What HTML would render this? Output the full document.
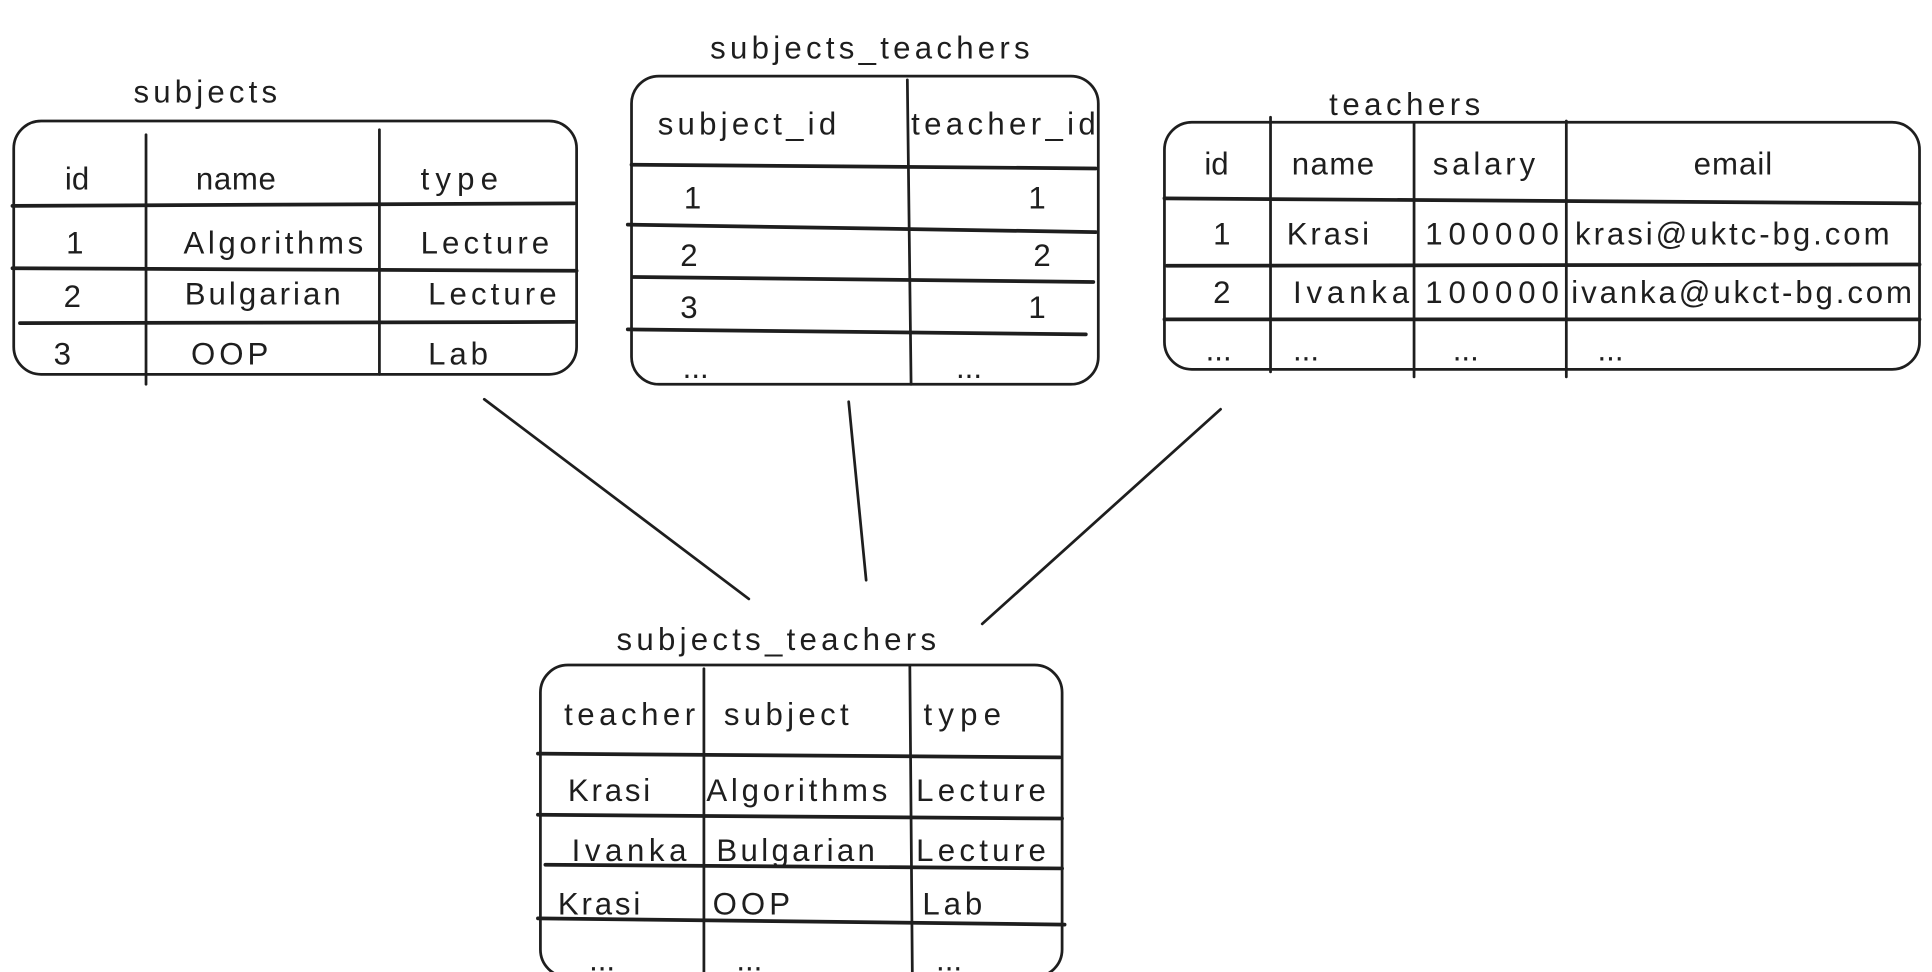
<!DOCTYPE html>
<html><head><style>
html,body{margin:0;padding:0;background:#fff;}
svg{display:block;}
text{font-family:"Liberation Sans",sans-serif;font-size:25px;fill:#1e1e1e;}
</style></head><body>
<svg width="1932" height="972" viewBox="0 0 1548 779" preserveAspectRatio="none" xmlns="http://www.w3.org/2000/svg">
<g fill="none" stroke="#1e1e1e" stroke-width="2.2" stroke-linecap="round">
<!-- subjects -->
<rect x="11" y="97" width="451" height="203" rx="22"/>
<line x1="10" y1="165" x2="460" y2="163" stroke-width="3"/>
<line x1="10" y1="215" x2="462" y2="217" stroke-width="3"/>
<line x1="16" y1="259" x2="460" y2="258" stroke-width="3"/>
<line x1="117" y1="108" x2="117" y2="308"/>
<line x1="304" y1="104" x2="304" y2="300"/>
<!-- subjects_teachers top -->
<rect x="506" y="61" width="374" height="247" rx="22"/>
<line x1="506" y1="132" x2="878" y2="135" stroke-width="3"/>
<line x1="503" y1="180" x2="878" y2="186" stroke-width="3"/>
<line x1="507" y1="222" x2="876" y2="226" stroke-width="3"/>
<line x1="503" y1="264" x2="870" y2="268" stroke-width="3"/>
<line x1="727" y1="64" x2="730" y2="308"/>
<!-- teachers -->
<rect x="933" y="98" width="605" height="198" rx="22"/>
<line x1="933" y1="159" x2="1538" y2="163" stroke-width="3"/>
<line x1="935" y1="213" x2="1538" y2="212" stroke-width="3"/>
<line x1="933" y1="256" x2="1538" y2="256" stroke-width="3"/>
<line x1="1018" y1="94" x2="1018" y2="298"/>
<line x1="1133" y1="99" x2="1133" y2="302"/>
<line x1="1255" y1="97" x2="1255" y2="302"/>
<!-- connectors -->
<line x1="388" y1="320" x2="600" y2="480"/>
<line x1="680" y1="322" x2="694" y2="465"/>
<line x1="978" y1="328" x2="787" y2="500"/>
<!-- bottom -->
<rect x="433" y="533" width="418" height="250" rx="22"/>
<line x1="431" y1="604" x2="849" y2="607" stroke-width="3"/>
<line x1="431" y1="653" x2="851" y2="656" stroke-width="3"/>
<line x1="437" y1="693" x2="851" y2="696" stroke-width="3"/>
<line x1="431" y1="736" x2="853" y2="741" stroke-width="3"/>
<line x1="564" y1="536" x2="564" y2="783"/>
<line x1="729" y1="534" x2="731" y2="781"/>
</g>
<!-- titles -->
<text x="107" y="82" textLength="115">subjects</text>
<text x="569" y="47" textLength="256">subjects_teachers</text>
<text x="1065" y="92" textLength="121">teachers</text>
<text x="494" y="521" textLength="256">subjects_teachers</text>
<!-- subjects -->
<text x="52" y="152">id</text>
<text x="157" y="152" textLength="64">name</text>
<text x="337" y="152" textLength="62">type</text>
<text x="53" y="203">1</text>
<text x="147" y="203" textLength="144">Algorithms</text>
<text x="337" y="203" textLength="103">Lecture</text>
<text x="51" y="246">2</text>
<text x="148" y="244" textLength="125">Bulgarian</text>
<text x="343" y="244" textLength="103">Lecture</text>
<text x="43" y="292">3</text>
<text x="153" y="292" textLength="62">OOP</text>
<text x="343" y="292" textLength="48">Lab</text>
<!-- subjects_teachers top -->
<text x="527" y="108" textLength="143">subject_id</text>
<text x="730" y="108" textLength="148">teacher_id</text>
<text x="548" y="167">1</text><text x="824" y="167">1</text>
<text x="545" y="213">2</text><text x="828" y="213">2</text>
<text x="545" y="255">3</text><text x="824" y="255">1</text>
<text x="547" y="303">...</text><text x="766" y="303">...</text>
<!-- teachers -->
<text x="965" y="140">id</text>
<text x="1035" y="140" textLength="66">name</text>
<text x="1148" y="140" textLength="82">salary</text>
<text x="1357" y="140" textLength="63">email</text>
<text x="972" y="196">1</text>
<text x="1031" y="196" textLength="66">Krasi</text>
<text x="1142" y="196" textLength="107">100000</text>
<text x="1262" y="196" textLength="252">krasi@uktc-bg.com</text>
<text x="972" y="243">2</text>
<text x="1036" y="243" textLength="93">Ivanka</text>
<text x="1142" y="243" textLength="107">100000</text>
<text x="1259" y="243" textLength="273">ivanka@ukct-bg.com</text>
<text x="966" y="289">...</text><text x="1036" y="289">...</text>
<text x="1164" y="289">...</text><text x="1280" y="289">...</text>
<!-- bottom -->
<text x="452" y="581" textLength="105">teacher</text>
<text x="580" y="581" textLength="100">subject</text>
<text x="740" y="581" textLength="62">type</text>
<text x="455" y="642" textLength="66">Krasi</text>
<text x="566" y="642" textLength="145">Algorithms</text>
<text x="734" y="642" textLength="104">Lecture</text>
<text x="458" y="690" textLength="92">Ivanka</text>
<text x="574" y="690" textLength="127">Bulgarian</text>
<text x="734" y="690" textLength="104">Lecture</text>
<text x="447" y="733" textLength="66">Krasi</text>
<text x="571" y="733" textLength="62">OOP</text>
<text x="739" y="733" textLength="48">Lab</text>
<text x="472" y="778">...</text><text x="590" y="778">...</text><text x="750" y="778">...</text>
</svg>
</body></html>
